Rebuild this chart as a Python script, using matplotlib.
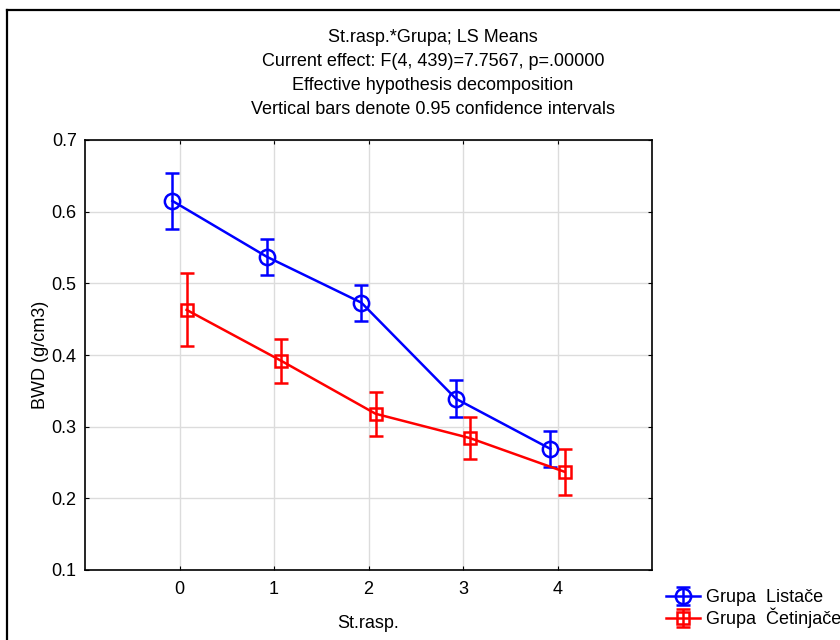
import matplotlib
matplotlib.use("Agg")
import matplotlib.pyplot as plt
from matplotlib.lines import Line2D

plt.rcParams['font.family'] = ['Liberation Sans', 'DejaVu Sans']

st_rasp = [0, 1, 2, 3, 4]
listace_mean = [0.615, 0.537, 0.473, 0.339, 0.269]
listace_ci = [0.039, 0.025, 0.025, 0.026, 0.025]
cetinjace_mean = [0.463, 0.392, 0.318, 0.284, 0.237]
cetinjace_ci = [0.051, 0.031, 0.031, 0.029, 0.032]
series_names = ["Grupa  Listače", "Grupa  Četinjače"]
title_lines = ["St.rasp.*Grupa; LS Means",
               "Current effect: F(4, 439)=7.7567, p=.00000",
               "Effective hypothesis decomposition",
               "Vertical bars denote 0.95 confidence intervals"]

W, H = 840, 640
FS = 13
fig = plt.figure(figsize=(W / 100, H / 100), dpi=100)
ax = fig.add_axes([85 / W, 1 - 570 / H, (652 - 85) / W, (570 - 140) / H])

off = 0.075
xb = [x - off for x in st_rasp]
xr = [x + off for x in st_rasp]
ax.errorbar(xb, listace_mean, yerr=listace_ci, color='#0000ff', lw=1.8,
            marker='o', ms=11, mfc='none', mec='#0000ff', mew=1.8,
            capsize=5, capthick=1.8, elinewidth=1.8, label=series_names[0], zorder=3)
ax.errorbar(xr, cetinjace_mean, yerr=cetinjace_ci, color='#ff0000', lw=1.8,
            marker='s', ms=9, mfc='none', mec='#ff0000', mew=1.8,
            capsize=5, capthick=1.8, elinewidth=1.8, label=series_names[1], zorder=3)

ax.set_xlim(-1, 5)
ax.set_ylim(0.1, 0.7)
ax.set_xticks(st_rasp)
ax.set_yticks([0.1, 0.2, 0.3, 0.4, 0.5, 0.6, 0.7])
ax.set_yticklabels(['0.1', '0.2', '0.3', '0.4', '0.5', '0.6', '0.7'])
ax.grid(True, color='#dcdcdc', lw=1)
ax.set_axisbelow(True)
ax.tick_params(direction='in', length=3, labelsize=FS, top=True, right=True)
ax.tick_params(axis='x', pad=8)
ax.tick_params(axis='y', pad=6)
for s in ax.spines.values():
    s.set_linewidth(1.2)
    s.set_color('black')

ax.set_xlabel("St.rasp.", fontsize=FS, labelpad=12)
ax.set_ylabel("BWD (g/cm3)", fontsize=FS, labelpad=2)

ys = [37, 61, 85, 110]
for t, y in zip(title_lines, ys):
    fig.text(433 / W, 1 - y / H, t, ha='center', va='center', fontsize=FS)

leg = fig.legend(loc='upper left', bbox_to_anchor=(666 / W, 1 - 589 / H),
                 frameon=False, fontsize=FS, handlelength=1.9,
                 handletextpad=0.3, labelspacing=0.1, borderaxespad=0, borderpad=0)

# figure border (partially off-canvas)
fig.add_artist(Line2D([7 / W, 7 / W], [0, 1 - 10 / H], transform=fig.transFigure,
                      color='black', lw=1.6))
fig.add_artist(Line2D([7 / W, 1], [1 - 10 / H, 1 - 10 / H], transform=fig.transFigure,
                      color='black', lw=1.6))

fig.savefig("out.png", dpi=100)
